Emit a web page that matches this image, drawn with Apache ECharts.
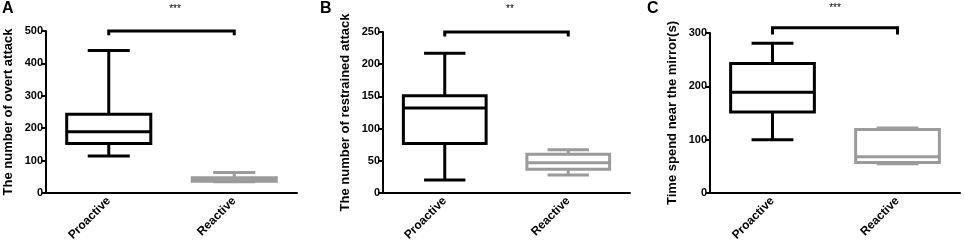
<!DOCTYPE html>
<html>
<head>
<meta charset="utf-8">
<script src="https://cdn.jsdelivr.net/npm/echarts@6/dist/echarts.min.js"></script>
<style>
  html, body { margin: 0; padding: 0; background: #fff; }
  #main { width: 964px; height: 249px; }
</style>
</head>
<body>
<div id="main"></div>
<script>
// groups on the x axis
var categories = ['Proactive', 'Reactive'];
// [min, Q1, median, Q3, max] for each group
var overtAttack = [[114, 153, 189, 243, 440], [35, 36, 41, 47, 63]];
var restrainedAttack = [[20, 77, 132, 151, 217], [28, 37, 47, 60, 67]];
var mirrorTime = [[100, 152, 189, 243, 281], [55, 57, 68, 119, 122]];
// y axis per panel
var yMax = [500, 250, 300];
var yStep = [100, 50, 100];
var yNames = ['The number of overt attack', 'The number of restrained attack', 'Time spend near the mirror(s)'];
// significance bracket [top, leg end] and stars
var bracketY = [[500, 487], [250, 243], [310, 297]];
var stars = ['***', '**', '***'];
var panelLetters = ['A', 'B', 'C'];

var boxColors = ['#000000', '#9b9b9b'];
var font = 'Liberation Sans, Arial, sans-serif';

var grids = [
  { left: 46, top: 31, width: 251, height: 162 },
  { left: 383, top: 32, width: 247, height: 161 },
  { left: 710, top: 33, width: 250, height: 160 }
];

function renderBox(params, api) {
  var i = api.value(0);
  var lo = api.coord([i, api.value(1)]);
  var q1 = api.coord([i, api.value(2)]);
  var med = api.coord([i, api.value(3)]);
  var q3 = api.coord([i, api.value(4)]);
  var hi = api.coord([i, api.value(5)]);
  var band = api.size([1, 0])[0];
  var half = band * 0.335;
  var cap = half / 2;
  var cx = lo[0];
  var st = { stroke: boxColors[i], lineWidth: 3, fill: null };
  return {
    type: 'group',
    children: [
      { type: 'line', shape: { x1: cx, y1: hi[1], x2: cx, y2: q3[1] }, style: st },
      { type: 'line', shape: { x1: cx, y1: q1[1], x2: cx, y2: lo[1] }, style: st },
      { type: 'line', shape: { x1: cx - cap, y1: hi[1], x2: cx + cap, y2: hi[1] }, style: st },
      { type: 'line', shape: { x1: cx - cap, y1: lo[1], x2: cx + cap, y2: lo[1] }, style: st },
      { type: 'rect', shape: { x: cx - half, y: q3[1], width: half * 2, height: q1[1] - q3[1] },
        style: { stroke: boxColors[i], lineWidth: 3, fill: '#fff' } },
      { type: 'line', shape: { x1: cx - half, y1: med[1], x2: cx + half, y2: med[1] }, style: st }
    ]
  };
}

function renderBracket(params, api) {
  var a = api.coord([api.value(0), api.value(3)]);
  var b = api.coord([api.value(0), api.value(2)]);
  var c = api.coord([api.value(1), api.value(2)]);
  var d = api.coord([api.value(1), api.value(3)]);
  return {
    type: 'polyline',
    shape: { points: [a, b, c, d] },
    style: { stroke: '#000', lineWidth: 3, fill: null }
  };
}

var panels = [overtAttack, restrainedAttack, mirrorTime];
var xAxes = [], yAxes = [], series = [], graphics = [];

panels.forEach(function (vals, p) {
  xAxes.push({
    type: 'category', gridIndex: p, data: categories,
    axisLine: { lineStyle: { color: '#000', width: 2 } },
    axisTick: { alignWithLabel: true, length: 5, lineStyle: { width: 2 } },
    axisLabel: { rotate: 45, margin: 6, color: '#000', fontSize: 12, fontWeight: 'bold', fontFamily: font }
  });
  yAxes.push({
    type: 'value', gridIndex: p, min: 0, max: yMax[p], interval: yStep[p],
    name: yNames[p], nameLocation: 'middle', nameGap: 31,
    nameTextStyle: { color: '#000', fontSize: 13, fontWeight: 'bold', fontFamily: font },
    axisLine: { show: true, lineStyle: { color: '#000', width: 2 } },
    axisTick: { show: true, length: 5, lineStyle: { width: 2 } },
    axisLabel: { margin: 3, color: '#000', fontSize: 11, fontWeight: 'bold', fontFamily: font },
    splitLine: { show: false }
  });
  series.push({
    type: 'custom', xAxisIndex: p, yAxisIndex: p, clip: false,
    renderItem: renderBox,
    encode: { x: 0, y: [1, 2, 3, 4, 5] },
    data: vals.map(function (v, i) { return [i].concat(v); }),
    z: 3
  });
  series.push({
    type: 'custom', xAxisIndex: p, yAxisIndex: p, clip: false,
    renderItem: renderBracket,
    encode: { x: [0, 1], y: [2, 3] },
    data: [[0, 1, bracketY[p][0], bracketY[p][1]]],
    z: 4
  });
});

// panel letters and significance stars
var letterPos = [[2, 1], [320, 1], [647, 1]];
var starPos = [[175, 4], [510, 4], [835, 3]];
panelLetters.forEach(function (t, p) {
  graphics.push({
    type: 'text', left: letterPos[p][0], top: letterPos[p][1],
    style: { text: t, fill: '#000', font: 'bold 16px ' + font }
  });
  graphics.push({
    type: 'text', x: starPos[p][0], y: starPos[p][1],
    style: { text: stars[p], fill: '#000', font: '10px ' + font, align: 'center', verticalAlign: 'top' }
  });
});

var chart = echarts.init(document.getElementById('main'), null, { renderer: 'canvas' });
chart.setOption({
  animation: false,
  backgroundColor: '#fff',
  grid: grids,
  xAxis: xAxes,
  yAxis: yAxes,
  series: series,
  graphic: graphics
});
</script>
</body>
</html>
